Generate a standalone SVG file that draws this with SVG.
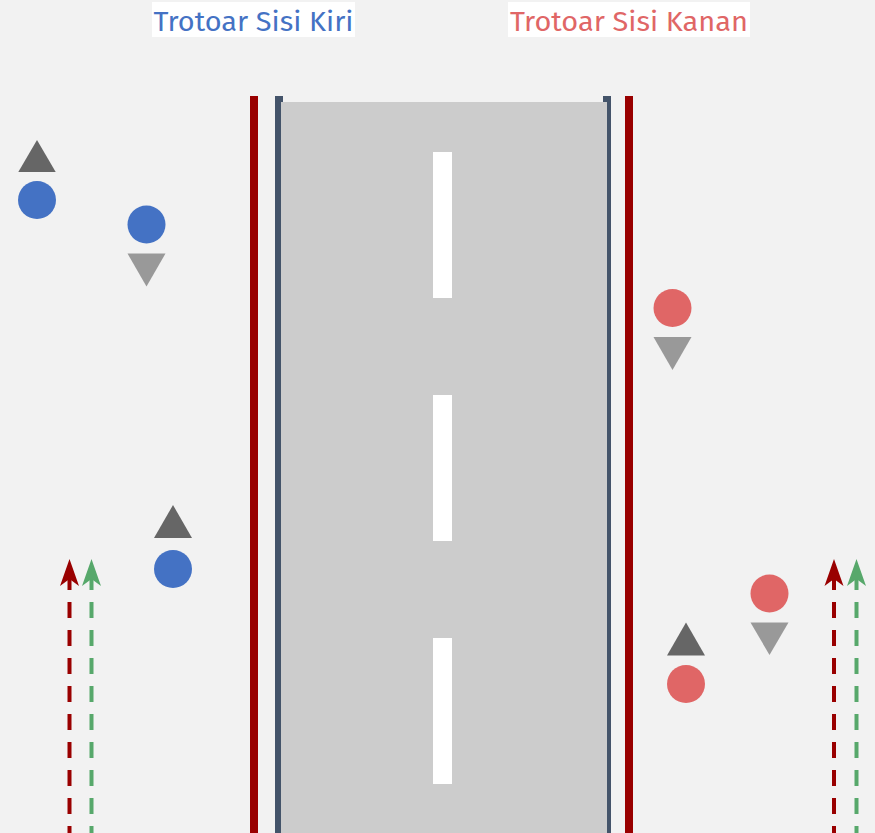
<svg xmlns="http://www.w3.org/2000/svg" width="875" height="833" viewBox="0 0 875 833">
<style>
.lbl{font-family:"Fira Sans","Open Sans","Noto Sans",sans-serif;font-size:28px}
.kerb{fill:#990000}
.edge{fill:#44546a}
.dash{fill:#ffffff}
.head{fill:#666666}
.arm{fill:#999999}
.pl{fill:#4472c4}
.pr{fill:#e06666}
.flow{fill:none;stroke-width:4;stroke-dasharray:16 12}
</style>
<defs>
<path id="ah" d="M0,0 L9.5,27 L0,20 L-9.5,27 Z"/>
</defs>
<rect width="875" height="833" fill="#f2f2f2"/>
<g id="road">
<rect class="kerb" x="250" y="96" width="8" height="737"/>
<rect class="kerb" x="625" y="96" width="8" height="737"/>
<rect class="edge" x="275" y="96" width="8" height="737"/>
<rect class="edge" x="603" y="96" width="8" height="737"/>
<rect x="281" y="102" width="326" height="731" fill="#cccccc"/>
<rect class="dash" x="433" y="152" width="19" height="146"/>
<rect class="dash" x="433" y="395" width="19" height="146"/>
<rect class="dash" x="433" y="638" width="19" height="146"/>
</g>
<g id="label-left">
<rect x="152" y="2" width="203" height="35" fill="#ffffff"/>
<text class="lbl" x="153.5" y="31" fill="#4472c4" textLength="200" lengthAdjust="spacingAndGlyphs">Trotoar Sisi Kiri</text>
</g>
<g id="label-right">
<rect x="508" y="2" width="242" height="35" fill="#ffffff"/>
<text class="lbl" x="510" y="31" fill="#e06666" textLength="238" lengthAdjust="spacingAndGlyphs">Trotoar Sisi Kanan</text>
</g>
<g id="ped-l1">
<polygon class="head" points="37,140 55.7,172 18.3,172"/>
<circle class="pl" cx="37" cy="200" r="19"/>
</g>
<g id="ped-l2">
<circle class="pl" cx="146.5" cy="224.5" r="19"/>
<polygon class="arm" points="127.5,253.5 165.5,253.5 146.5,286.5"/>
</g>
<g id="ped-l3">
<polygon class="head" points="173,505 192,538 154,538"/>
<circle class="pl" cx="173" cy="569" r="19"/>
</g>
<g id="ped-r1">
<circle class="pr" cx="672.5" cy="308" r="19"/>
<polygon class="arm" points="653.5,337 691.5,337 672.5,370"/>
</g>
<g id="ped-r2">
<circle class="pr" cx="769.5" cy="593.5" r="19"/>
<polygon class="arm" points="750.5,622.5 788.5,622.5 769.5,655"/>
</g>
<g id="ped-r3">
<polygon class="head" points="686,622.5 705,655.5 667,655.5"/>
<circle class="pr" cx="686" cy="684" r="19"/>
</g>
<g id="connectors">
<line class="flow" x1="69.5" y1="574" x2="69.5" y2="840" stroke="#990000"/>
<use href="#ah" x="69.5" y="559" fill="#990000"/>
<line class="flow" x1="91.5" y1="574" x2="91.5" y2="840" stroke="#57a86b"/>
<use href="#ah" x="91.5" y="559" fill="#57a86b"/>
<line class="flow" x1="834" y1="574" x2="834" y2="840" stroke="#990000"/>
<use href="#ah" x="834" y="559" fill="#990000"/>
<line class="flow" x1="856.5" y1="574" x2="856.5" y2="840" stroke="#57a86b"/>
<use href="#ah" x="856.5" y="559" fill="#57a86b"/>
</g>
</svg>
